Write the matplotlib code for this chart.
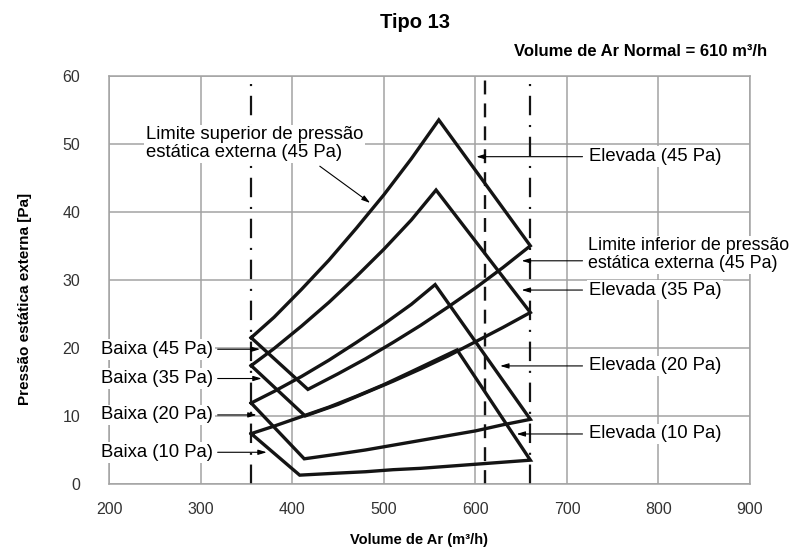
import matplotlib
matplotlib.use('Agg')
from matplotlib import pyplot as plt

plt.rcParams['font.family'] = ['Liberation Sans', 'DejaVu Sans']
plt.rcParams['lines.scale_dashes'] = False

# air volume (m3/h) / static pressure (Pa), one closed outline per setting
# (Baixa point -> along upper limit curve -> peak -> Elevada point -> back along lower curve)
x_45 = [355, 380, 410, 440, 470, 500, 530, 560, 660, 630, 600, 570, 540, 510, 480, 450, 417, 355]
y_45 = [21.5, 24.5, 28.6, 32.9, 37.6, 42.5, 47.8, 53.5, 35.0, 31.8, 28.8, 26.0, 23.3, 20.8, 18.4, 16.2, 13.9, 21.5]
x_35 = [355, 380, 410, 440, 470, 500, 530, 557, 660, 630, 600, 570, 540, 510, 480, 450, 414, 355]
y_35 = [17.4, 19.9, 23.2, 26.7, 30.5, 34.5, 38.8, 43.2, 25.2, 23.0, 20.9, 18.8, 16.9, 15.1, 13.4, 11.7, 10.0, 17.4]
x_20 = [355, 380, 410, 440, 470, 500, 530, 556, 660, 630, 600, 570, 540, 510, 480, 450, 413, 355]
y_20 = [11.9, 13.6, 15.8, 18.2, 20.8, 23.5, 26.4, 29.3, 9.5, 8.7, 7.8, 7.1, 6.4, 5.7, 5.0, 4.4, 3.7, 11.9]
x_10 = [355, 380, 410, 440, 470, 500, 530, 555, 580, 660, 630, 600, 570, 540, 510, 480, 450, 408, 355]
y_10 = [7.4, 8.5, 9.9, 11.3, 12.9, 14.6, 16.5, 18.1, 19.7, 3.5, 3.2, 2.9, 2.6, 2.3, 2.1, 1.8, 1.6, 1.3, 7.4]

vol_min, vol_normal, vol_max = 355, 610, 660

# right hand labels: text, y, arrow tip x
elev_labels = ['Elevada (45 Pa)', 'Elevada (35 Pa)', 'Elevada (20 Pa)', 'Elevada (10 Pa)']
elev_y = [48.1, 28.5, 17.35, 7.35]
elev_tip = [601, 650.5, 627, 645]

baixa_labels = ['Baixa (45 Pa)', 'Baixa (35 Pa)', 'Baixa (20 Pa)', 'Baixa (10 Pa)']
baixa_y = [19.8, 15.5, 10.15, 4.66]
baixa_tip = [364.6, 366.5, 361, 372]

fig = plt.figure(figsize=(7.93, 5.53), dpi=100)
ax = fig.add_axes([0.1378, 0.1248, 0.808, 0.7383])

grey = '#a3a3a3'
ax.set_xlim(200, 900)
ax.set_ylim(0, 60)
ax.set_xticks(range(200, 901, 100))
ax.set_yticks(range(0, 61, 10))
ax.grid(True, color=grey, lw=1.1, zorder=0)
ax.set_axisbelow(True)
for s in ax.spines.values():
    s.set_color(grey)
    s.set_linewidth(1.1)
ax.tick_params(axis='both', length=0, labelsize=11.5, labelcolor='#333333')
ax.tick_params(axis='y', pad=21)
ax.tick_params(axis='x', pad=13)

for xs, ys in [(x_45, y_45), (x_35, y_35), (x_20, y_20), (x_10, y_10)]:
    ax.plot(xs, ys, color='#141414', lw=2.4, solid_joinstyle='miter', zorder=3)

ax.axvline(vol_min, color='#141414', lw=1.6, dashes=(14, 7, 1.5, 7), zorder=2)
ax.axvline(vol_max, color='#141414', lw=1.6, dashes=(14, 7, 1.5, 7), zorder=2)
ax.axvline(vol_normal, color='#141414', lw=1.7, dashes=(10, 6.5), zorder=2)

box = dict(boxstyle='square,pad=0.1', fc='white', ec='none')
arrow = dict(arrowstyle='-|>,head_length=0.5,head_width=0.15', color='black',
             lw=0.8, shrinkA=0, shrinkB=0, mutation_scale=10)

ax.text(240, 50.0, 'Limite superior de pressão\nestática externa (45 Pa)', fontsize=13.3,
        ha='left', va='center', linespacing=1.05, bbox=box, zorder=5)
ax.annotate('', xy=(485, 41.3), xytext=(430, 46.7), arrowprops=arrow, zorder=5)

ax.text(723, 33.7, 'Limite inferior de pressão\nestática externa (45 Pa)', fontsize=12.9,
        ha='left', va='center', linespacing=1.05, bbox=box, zorder=5)
ax.annotate('', xy=(650.5, 32.8), xytext=(717, 32.8), arrowprops=arrow, zorder=5)

for lab, y, tip in zip(elev_labels, elev_y, elev_tip):
    ax.text(724, y, lab, fontsize=13.3, ha='left', va='center', bbox=box, zorder=5)
    ax.annotate('', xy=(tip, y), xytext=(717, y), arrowprops=arrow, zorder=5)

for lab, y, tip in zip(baixa_labels, baixa_y, baixa_tip):
    ax.text(313.3, y, lab, fontsize=13.3, ha='right', va='center', bbox=box, zorder=5, clip_on=False)
    ax.annotate('', xy=(tip, y), xytext=(318.4, y), arrowprops=arrow, zorder=5)

fig.text(415 / 793, 1 - 22 / 553, 'Tipo 13', fontsize=14.5, fontweight='bold', ha='center', va='center')
fig.text(767 / 793, 1 - 52 / 553, 'Volume de Ar Normal = 610 m³/h', fontsize=12, fontweight='bold',
         ha='right', va='center')
fig.text(419 / 793, 1 - 540 / 553, 'Volume de Ar (m³/h)', fontsize=10.5, fontweight='bold',
         ha='center', va='center')
fig.text(25 / 793, 1 - 299 / 553, 'Pressão estática externa [Pa]', fontsize=11, fontweight='bold',
         rotation=90, ha='center', va='center')

fig.savefig('out.png', dpi=100)
